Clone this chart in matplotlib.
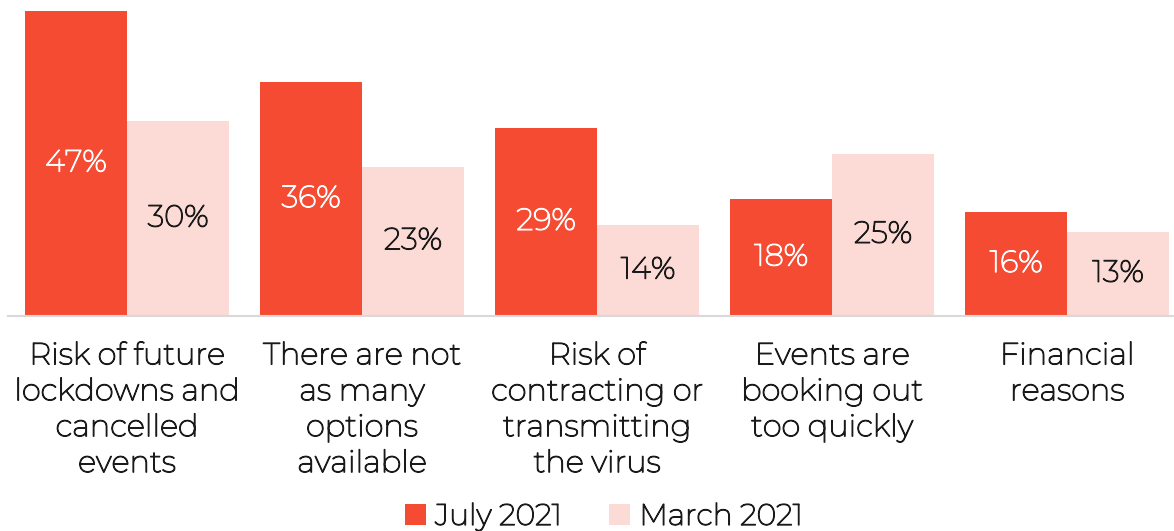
import matplotlib.pyplot as plt
import matplotlib.patheffects as pe
import numpy as np

plt.rcParams['font.family'] = ['Montserrat', 'Open Sans', 'DejaVu Sans']

categories = ["Risk of future\nlockdowns and\ncancelled\nevents",
              "There are not\nas many\noptions\navailable",
              "Risk of\ncontracting or\ntransmitting\nthe virus",
              "Events are\nbooking out\ntoo quickly",
              "Financial\nreasons"]
july_2021 = [47, 36, 29, 18, 16]
march_2021 = [30, 23, 14, 25, 13]

red = '#F64B33'
pink = '#FCDAD5'
dark = '#1a1a1a'

# the installed Montserrat is thin, thicken it a little
def bold(c):
    return [pe.withStroke(linewidth=0.9, foreground=c)]

fig = plt.figure(figsize=(11.74, 5.31), dpi=100)
ax = fig.add_axes([8/1174, 215/531, 1166/1174, 305/531])

x = np.arange(len(categories))
w = 0.434
b1 = ax.bar(x - w/2, july_2021, w, color=red, label='July 2021')
b2 = ax.bar(x + w/2, march_2021, w, color=pink, label='March 2021')

for rect, v in zip(b1, july_2021):
    ax.text(rect.get_x() + rect.get_width()/2, v/2, f"{v}%", ha='center', va='center',
            color='white', fontsize=22, path_effects=bold('white'))
for rect, v in zip(b2, march_2021):
    ax.text(rect.get_x() + rect.get_width()/2, v/2, f"{v}%", ha='center', va='center',
            color=dark, fontsize=22, path_effects=bold(dark))

ax.set_xlim(-0.506, 4.455)
ax.set_ylim(0, 47)
ax.set_xticks(x)
ax.set_xticklabels(categories, fontsize=22, color=dark, linespacing=1.36)
for t in ax.get_xticklabels():
    t.set_path_effects(bold(dark))
ax.tick_params(axis='x', length=0, pad=19)
ax.set_yticks([])
for s in ['top', 'right', 'left']:
    ax.spines[s].set_visible(False)
ax.spines['bottom'].set_color('#D9D9D9')
ax.spines['bottom'].set_linewidth(1.5)

leg = fig.legend(handles=[b1, b2], loc='center', bbox_to_anchor=(604/1174, 1 - 517/531),
                 ncol=2, frameon=False, fontsize=21.5, handlelength=0.7, handleheight=0.7,
                 handletextpad=0.3, columnspacing=1.6)
for t in leg.get_texts():
    t.set_color(dark)
    t.set_path_effects(bold(dark))

fig.savefig('out.png', dpi=100)
